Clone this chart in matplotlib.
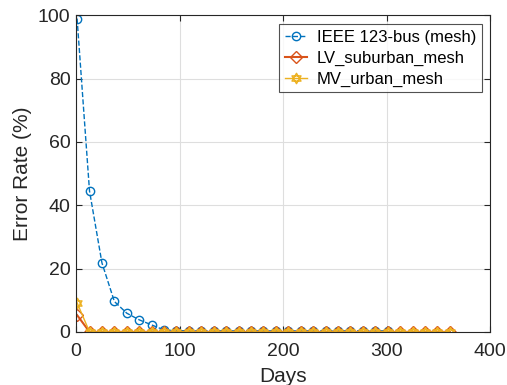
import numpy as np
import matplotlib.pyplot as plt
from matplotlib.path import Path

plt.rcParams['font.family'] = ['Liberation Sans', 'DejaVu Sans']

# days sampled every 12 days
days = list(range(1, 362, 12))
days_ieee = days[:26]

ieee_err = [99.0, 44.5, 21.8, 9.6, 5.9, 3.8, 2.2, 0.6, 0.4, 0.3, 0.3, 0.3, 0.3,
            0.3, 0.3, 0.3, 0.3, 0.3, 0.3, 0.3, 0.3, 0.3, 0.3, 0.3, 0.3, 0.3]
lv_err = [5.3] + [0.0] * 30
mv_err = [9.2] + [0.0] * 30

labels = ['IEEE 123-bus (mesh)', 'LV_suburban_mesh', 'MV_urban_mesh']
colors = ['#0072BD', '#D95319', '#EDB120']

# six-point star outline (two triangles)
ang = np.deg2rad([90, 210, 330])
tri1 = np.column_stack([np.cos(ang), np.sin(ang)])
tri2 = -tri1
verts = np.vstack([tri1, tri1[:1], tri2, tri2[:1]])
codes = [Path.MOVETO, Path.LINETO, Path.LINETO, Path.CLOSEPOLY] * 2
hexagram = Path(verts, codes)

fig = plt.figure(figsize=(5.07, 3.85), dpi=100)
ax = fig.add_axes([0.150, 0.138, 0.817, 0.822])

ax.plot(days_ieee, ieee_err, '--', color=colors[0], marker='o', mfc='none',
        ms=6, lw=1.0, mew=1.0, label=labels[0])
ax.plot(days, lv_err, '-', color=colors[1], marker='D', mfc='none',
        ms=6.5, lw=1.5, mew=1.0, label=labels[1])
ax.plot(days, mv_err, '-', color=colors[2], marker=hexagram, mfc='none',
        ms=7.5, lw=1.0, mew=1.0, label=labels[2])

ax.set_xlim(0, 400)
ax.set_ylim(0, 100)
ax.set_xticks([0, 100, 200, 300, 400])
ax.set_yticks([0, 20, 40, 60, 80, 100])
ax.grid(True, color='#dedede', lw=0.8)
ax.set_axisbelow(True)
ax.tick_params(direction='in', top=True, right=True, labelsize=14,
               colors='#262626', length=4)
ax.tick_params(axis='x', pad=8)
ax.tick_params(axis='y', pad=4)
for s in ax.spines.values():
    s.set_color('#262626')
    s.set_linewidth(0.8)

ax.set_xlabel('Days', fontsize=15, color='#262626', labelpad=5)
ax.set_ylabel('Error Rate (%)', fontsize=15, color='#262626', labelpad=4)

leg = ax.legend(loc='upper right', fontsize=12, frameon=True, fancybox=False,
                edgecolor='#262626', handlelength=1.3, borderaxespad=0.5,
                labelspacing=0.35, handletextpad=0.6, borderpad=0.35)
leg.get_frame().set_linewidth(0.8)

fig.savefig('out.png', dpi=100)
